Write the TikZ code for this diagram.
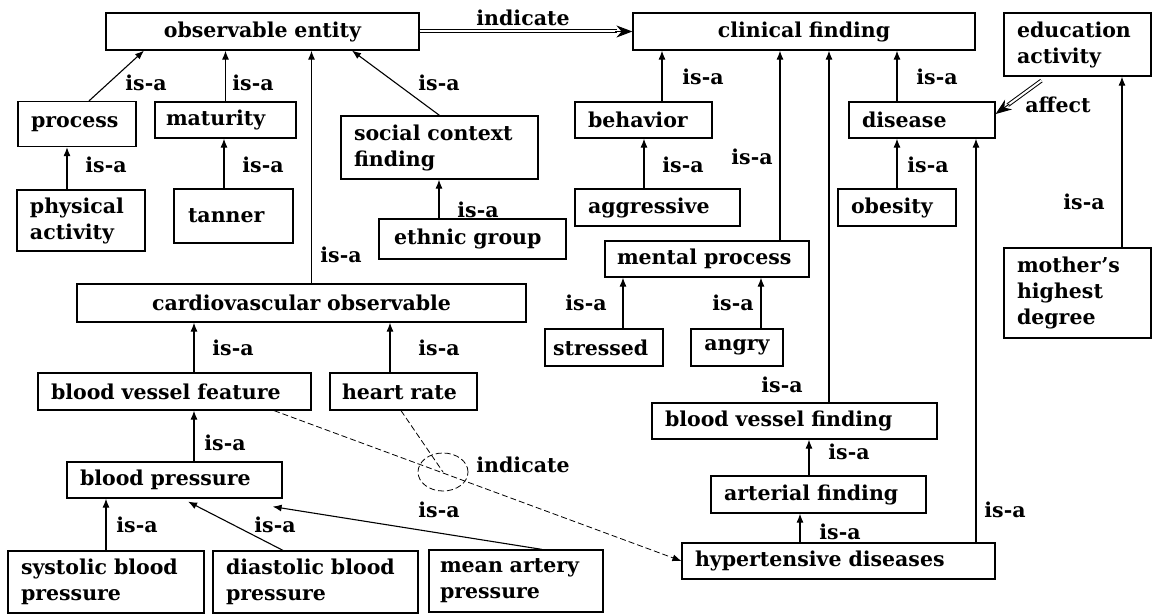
\documentclass[tikz,border=0pt]{standalone}
\usepackage{fontspec}
\setmainfont{DejaVu Serif}
\usetikzlibrary{arrows.meta,shapes.geometric,calc}

\begin{document}
\begin{tikzpicture}[x=1pt,y=-1pt,
font=\fontsize{20.5}{26}\selectfont\bfseries,
box/.style={%
draw,
line width=1.2pt,
inner xsep=13pt,
inner ysep=0pt,
align=left
},
lbl/.style={inner sep=0pt},
isa/.style={line width=1.1pt,-{Latex[length=9pt,width=7pt]}},
rel/.style={double,double distance=2pt,line width=1pt,shorten >=15pt},
reltip/.style={line width=1pt,-{Stealth[length=16pt,width=12pt]}},
ind/.style={dash pattern=on 6pt off 3pt,line width=0.8pt}
]
\useasboundingbox(0,0)rectangle(1152,615);
%% Top row
\node[box,text width=287pt,minimum height=37pt,align=center]at(262.5,31.5)(obs){observable entity};
\node[box,text width=316pt,minimum height=37pt,align=center]at(804,31.5)(clin){clinical finding};
\node[box,text width=121pt,minimum height=63pt]at(1077.5,44.5)(edu){education\\activity};
\draw[rel](obs)--(clin);
\draw[reltip]([xshift=-17pt]clin.west)--(clin.west);
\node[lbl]at(523,18)(indtop){indicate};
%% Observable entity branch
\node[box,text width=92pt,minimum height=45pt]at(77,124)(proc){process};
\node[box,text width=119pt,minimum height=36pt,inner xsep=11pt]at(225.5,120)(mat){maturity};
\node[box,text width=102pt,minimum height=61pt]at(81,220.5)(phys){physical\\activity};
\node[box,text width=91pt,minimum height=54pt,inner xsep=14pt]at(233.5,216)(tan){tanner};
\node[box,text width=171pt,minimum height=63pt]at(439.5,147.5)(soc){social context\\finding};
\node[box,text width=157pt,minimum height=40pt,inner xsep=15pt]at(472.5,239)(eth){ethnic group};
\draw[isa]([xshift=12pt]proc.north)--([xshift=-118.5pt]obs.south);
\draw[isa](mat.north)--(mat.north|-obs.south);
\draw[isa](soc.north)--([xshift=89.5pt]obs.south);
\draw[isa]([xshift=-14pt]phys.north)--([xshift=-14pt]phys.north|-proc.south);
\draw[isa]([xshift=-9.5pt]tan.north)--([xshift=-9.5pt]tan.north|-mat.south);
\draw[isa]([xshift=-33.5pt]eth.north)--([xshift=-33.5pt]eth.north|-soc.south);
\node[lbl]at(146,83)(l1){is-a};
\node[lbl]at(253,83)(l2){is-a};
\node[lbl]at(439,83)(l3){is-a};
\node[lbl]at(106,165)(l4){is-a};
\node[lbl]at(263,165)(l5){is-a};
\node[lbl]at(478,210)(l6){is-a};
%% Cardiovascular branch
\node[box,text width=423pt,minimum height=38pt,align=center]at(301.5,303)(cardio){cardiovascular observable};
\node[box,text width=247pt,minimum height=37pt]at(174.5,391.5)(bvf){blood vessel feature};
\node[box,text width=123pt,minimum height=37pt,inner xsep=12pt]at(403.5,391.5)(hr){heart rate};
\node[box,text width=189pt,minimum height=36pt]at(174.5,480)(bp){blood pressure};
\node[box,text width=170pt,minimum height=62pt]at(106,582)(sys){systolic blood\\pressure};
\node[box,text width=179pt,minimum height=62pt]at(315.5,582)(dia){diastolic blood\\pressure};
\node[box,text width=152pt,minimum height=62pt,inner xsep=11pt]at(516,581)(mean){mean artery\\pressure};
\draw[isa]([xshift=10pt]cardio.north)--([xshift=10pt]cardio.north|-obs.south);
\draw[isa]([xshift=19.5pt]bvf.north)--([xshift=19.5pt]bvf.north|-cardio.south);
\draw[isa]([xshift=-13.5pt]hr.north)--([xshift=-13.5pt]hr.north|-cardio.south);
\draw[isa]([xshift=19.5pt]bp.north)--([xshift=19.5pt]bp.north|-bvf.south);
\draw[isa](sys.north)--(sys.north|-bp.south);
\draw[isa]([xshift=-32.5pt]dia.north)--([xshift=13.5pt,yshift=-3pt]bp.south);
\draw[isa]([xshift=26pt]mean.north)--([xshift=-10pt,yshift=-8pt]bp.south east);
\node[lbl]at(341,255)(l7){is-a};
\node[lbl]at(233,348)(l8){is-a};
\node[lbl]at(439,348)(l9){is-a};
\node[lbl]at(225,443)(l10){is-a};
\node[lbl]at(137,525)(l11){is-a};
\node[lbl]at(275,525)(l12){is-a};
\node[lbl]at(439,510)(l13){is-a};
%% Indicate relation
\node[draw,ellipse,ind,minimum width=50pt,minimum height=38pt]at(443,472)(indc){};
\node[lbl]at(523,465)(indmid){indicate};
%% Clinical finding branch
\node[box,text width=111pt,minimum height=36pt]at(643.5,120)(beh){behavior};
\node[box,text width=139pt,minimum height=37pt]at(657.5,207.5)(agg){aggressive};
\node[box,text width=120pt,minimum height=36pt]at(922,120)(dis){disease};
\node[box,text width=92pt,minimum height=37pt]at(897,207.5)(obe){obesity};
\node[box,text width=180pt,minimum height=36pt,inner xsep=12pt]at(707,259)(ment){mental process};
\node[box,text width=102pt,minimum height=37pt,inner xsep=8pt]at(604,347.5)(str){stressed};
\node[box,text width=80pt,minimum height=37pt,inner xsep=6pt,align=center]at(737,347.5)(ang){angry};
\node[box,text width=121pt,minimum height=90pt]at(1077.5,293)(moth){mother’s\\highest\\degree};
\node[box,text width=259pt,minimum height=36pt]at(794.5,421)(bvfind){blood vessel finding};
\node[box,text width=189pt,minimum height=37pt]at(818.5,494.5)(art){arterial finding};
\node[box,text width=287pt,minimum height=36pt]at(838.5,561)(hyp){hypertensive diseases};
\draw[isa]([xshift=18.5pt]beh.north)--([xshift=18.5pt]beh.north|-clin.south);
\draw[isa]([xshift=-13.5pt]agg.north)--([xshift=-13.5pt]agg.north|-beh.south);
\draw[isa]([xshift=73pt]ment.north)--([xshift=73pt]ment.north|-clin.south);
\draw[isa]([xshift=34.5pt]bvfind.north)--([xshift=34.5pt]bvfind.north|-clin.south);
\draw[isa]([xshift=-25pt]dis.north)--([xshift=-25pt]dis.north|-clin.south);
\draw[isa](obe.north)--(obe.north|-dis.south);
\draw[isa]([xshift=137.5pt]hyp.north)--([xshift=137.5pt]hyp.north|-dis.south);
\draw[isa]([xshift=44.5pt]moth.north)--([xshift=44.5pt]moth.north|-edu.south);
\draw[isa]([xshift=19pt]str.north)--([xshift=19pt]str.north|-ment.south);
\draw[isa]([xshift=24pt]ang.north)--([xshift=24pt]ang.north|-ment.south);
\draw[isa]([xshift=-9.5pt]art.north)--([xshift=-9.5pt]art.north|-bvfind.south);
\draw[isa]([xshift=-38.5pt]hyp.north)--([xshift=-38.5pt]hyp.north|-art.south);
%% affect
\coordinate(affs)at([xshift=38pt,yshift=-4pt]edu.south west);
\coordinate(affe)at([yshift=6pt]dis.east);
\draw[rel](affs)--(affe);
\draw[reltip]($(affe)!17pt!(affs)$)--(affe);
\node[lbl]at(1058,105)(aff){affect};
\node[lbl]at(703,77)(l14){is-a};
\node[lbl]at(937,77)(l15){is-a};
\node[lbl]at(683,165)(l16){is-a};
\node[lbl]at(752,157)(l17){is-a};
\node[lbl]at(928,165)(l18){is-a};
\node[lbl]at(1084,202)(l19){is-a};
\node[lbl]at(586,303)(l20){is-a};
\node[lbl]at(733,303)(l21){is-a};
\node[lbl]at(782,385)(l22){is-a};
\node[lbl]at(849,452)(l23){is-a};
\node[lbl]at(840,532)(l24){is-a};
\node[lbl]at(1005,510)(l25){is-a};
%% Dashed indicate lines
\draw[ind,-{Latex[length=9pt,width=7pt]}]([xshift=99.5pt]bvf.south)--(hyp.west);
\draw[ind]([xshift=-2.5pt]hr.south)--(indc.center);
\end{tikzpicture}
\end{document}
